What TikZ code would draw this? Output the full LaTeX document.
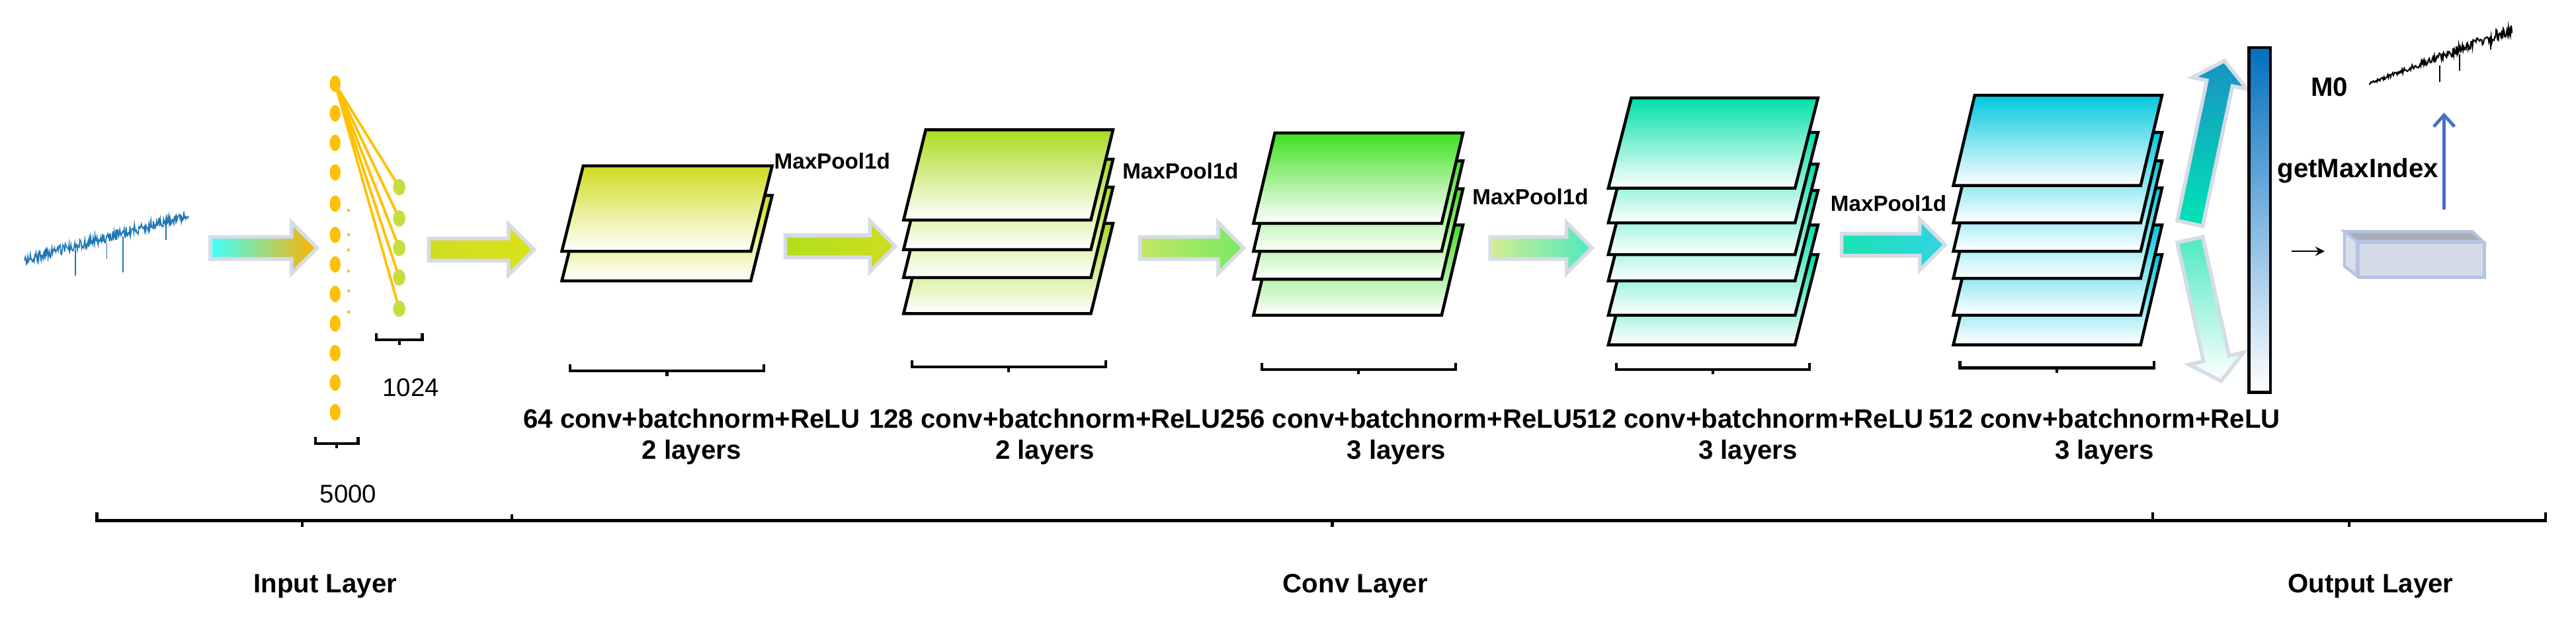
\documentclass[tikz,border=0pt]{standalone}
\usepackage{fontspec}
\setmainfont{Liberation Sans}
\usetikzlibrary{shapes.geometric,arrows.meta}
\definecolor{sigblue}{HTML}{1F77B4}
\definecolor{barblue}{HTML}{0070C0}
\definecolor{arrowborder}{HTML}{D6DCE6}
\definecolor{dotor}{HTML}{FFC000}
\definecolor{dotgr}{HTML}{C8DC40}
\definecolor{cA}{HTML}{D0DC20}
\definecolor{cB}{HTML}{A8DC20}
\definecolor{cC}{HTML}{40E020}
\definecolor{cD}{HTML}{00E0A8}
\definecolor{cE}{HTML}{00C8E0}
\definecolor{boxfill}{HTML}{D4DBE6}
\definecolor{boxtop}{HTML}{A8ACB4}
\definecolor{boxline}{HTML}{B4C4E4}
\definecolor{upblue}{HTML}{4472C4}
\tikzset{
  lbl/.style={font=\fontsize{11.5}{13.5}\selectfont\bfseries, align=center, inner sep=0},
  mp/.style={font=\fontsize{9.5}{11}\selectfont\bfseries, anchor=west, inner sep=0},
  num/.style={font=\fontsize{11}{13}\selectfont, inner sep=0},
  plate/.style={draw=black, line width=1.3pt, line join=miter},
  brk/.style={draw=black, line width=1.2pt},
  blk/.style={draw=arrowborder, line width=1.6pt, line join=miter},
  indot/.style={ellipse, fill=dotor, inner sep=0, minimum width=0.165cm, minimum height=0.25cm},
  hdot/.style={ellipse, fill=dotgr, inner sep=0, minimum width=0.185cm, minimum height=0.245cm},
}
% plate: x of top-left, y top, width, height, slant, colour
\newcommand\myplate[6]{%
  \draw[plate, top color=#6, bottom color=white]
   (#1,#2) -- ++(#3,0) -- ++(-#5,#4) -- ++(-#3,0) -- cycle;}
% block arrow: x1, x2, yc, left colour, right colour
\newcommand\myarrow[5]{%
  \draw[blk, left color=#4, right color=#5]
   (#1,#3-6.7) -- (#2-15.5,#3-6.7) -- (#2-15.5,#3-15.5) -- (#2,#3) --
   (#2-15.5,#3+15.5) -- (#2-15.5,#3+6.7) -- (#1,#3+6.7) -- cycle;}
% bracket: x1, x2, y
\newcommand\mybracket[3]{%
  \draw[brk] (#1,#3-4) -- (#1,#3) -- (#2,#3) -- (#2,#3-4);
  \draw[brk] ({(#1+#2)/2},#3) -- ({(#1+#2)/2},#3+3);}
\begin{document}
\begin{tikzpicture}[x=0.025cm, y=-0.025cm]
\useasboundingbox (0,0) rectangle (1568,384.5);

% input signal
\pgfmathsetseed{7}
\draw[sigblue, line width=0.5pt] plot[domain=15:115, samples=260] (\x, {158-0.27*(\x-15)+3.2*rand});
\draw[sigblue, line width=0.5pt] (46,152) -- (46,168) (75,144) -- (75,166) (65,148) -- (65,158) (101,134) -- (101,146);

% block arrows
\myarrow{128}{193}{151}{cyan!75!white}{orange!60!yellow}
\myarrow{261}{325}{152}{cA}{cA!80!yellow}
\myarrow{478}{545}{150}{cB!90!yellow}{cA}
\myarrow{694}{757}{151}{cB!70!white}{cC!70!white}
\myarrow{907}{969}{151}{cB!50!white}{cD!70!white}
\myarrow{1121}{1184}{149}{cD!90!white}{cE!80!white}

% input layer neurons
\foreach \i/\y in {0/51,1/69,2/87,3/105,4/124,5/143,6/161,7/179,8/197,9/215,10/233,11/251}
  {\node[indot] (in\i) at (204,\y) {};}
\foreach \i/\y in {1/114,2/133,3/151,4/169,5/188}
  {\node[hdot] (h\i) at (243,\y) {};}
\foreach \i in {1,...,5}
  {\draw[dotor, line width=1.1pt] (in0.center) -- (h\i.center);}
\foreach \i in {1,...,5} {\node[hdot] at (h\i) {};}
\foreach \y in {128,143,152,165,177,190}
  {\fill[dotor] (211.2,\y-0.8) rectangle (212.8,\y+0.8);}

\mybracket{229}{257}{207}
\node[num] (n1024) at (250,236) {1024};
\mybracket{192}{218}{270}
\node[num] (n5000) at (212,301) {5000};

% conv layers
\foreach \t in {119,101} {\myplate{355}{\t}{115}{52}{13}{cA}}
\foreach \t in {136,114,97,79} {\myplate{563.5}{\t}{114}{55}{13.5}{cB}}
\foreach \t in {137,115,98,81} {\myplate{776}{\t}{114.5}{55}{13}{cC}}
\foreach \t in {155,137,116,100,80.7,59.6} {\myplate{993}{\t}{113.6}{55}{14}{cD}}
\foreach \t in {155,137,114.5,98,80.7,58} {\myplate{1202}{\t}{114}{55}{13}{cE}}

\node[mp] (mp1) at (471,98) {MaxPool1d};
\node[mp] (mp2) at (683,104) {MaxPool1d};
\node[mp] (mp3) at (896,120) {MaxPool1d};
\node[mp] (mp4) at (1114,124) {MaxPool1d};

\mybracket{347}{465}{226}
\mybracket{555}{673}{223.5}
\mybracket{768}{886}{225}
\mybracket{984}{1101.5}{225}
\mybracket{1193}{1311}{224}

\node[lbl] (l1) at (421,266) {64 conv+batchnorm+ReLU\\2 layers};
\node[lbl] (l2) at (636,266) {128 conv+batchnorm+ReLU\\2 layers};
\node[lbl] (l3) at (850,266) {256 conv+batchnorm+ReLU\\3 layers};
\node[lbl] (l4) at (1064,266) {512 conv+batchnorm+ReLU\\3 layers};
\node[lbl] (l5) at (1281,266) {512 conv+batchnorm+ReLU\\3 layers};

% output part: split arrows
\draw[blk, bottom color=cD!85!cyan, top color=sigblue!80!cyan]
  (1340.8,137.7) -- (1358.9,52.4) -- (1367.7,54.2) -- (1354,37) -- (1334.5,47.2) -- (1343.3,49.0) -- (1325.2,134.3) -- cycle;
\draw[blk, top color=cD!70!white, bottom color=white]
  (1340.8,144.3) -- (1356.8,216.6) -- (1365.6,214.6) -- (1352,232) -- (1332.4,222) -- (1341.2,220) -- (1325.2,147.7) -- cycle;

\draw[black, line width=1.3pt, top color=barblue, bottom color=white] (1369,29) rectangle (1382,239);
\node[lbl, anchor=west] (gmi) at (1386,104) {getMaxIndex};

% box
\draw[boxline, line width=1.2pt, fill=boxtop] (1427,141) -- (1505,141) -- (1511.3,147) -- (1434.6,147) -- cycle;
\draw[boxline, line width=1.2pt, fill=boxfill!85!white] (1427,141) -- (1434.6,147) -- (1434.6,168) -- (1427,162) -- cycle;
\node[draw=boxline, line width=1.2pt, fill=boxfill, minimum width=1.92cm, minimum height=0.525cm, inner sep=0, anchor=north west] (box) at (1434.6,147) {};
\coordinate (sa) at (1395,153);
\coordinate (sb) at (1415,153);
\draw[->, line width=0.8pt, >=stealth] (sa) -- (sb);

\coordinate (bt) at (1487.7,127.5);
\coordinate (bh) at (1487.7,68.6);
\draw[upblue, line width=1.4pt, -{Straight Barb[length=5pt,width=9pt]}] (bt) -- (bh);

\node[lbl, anchor=center] (m0) at (1418,53) {M0};
\pgfmathsetseed{3}
\draw[black, line width=0.6pt] plot[domain=1442:1529, samples=200] (\x, {51-0.38*(\x-1442)+(0.6+0.04*(\x-1442))*rand});
\draw[black, line width=0.5pt] (1485,40) -- (1485,50) (1497,33) -- (1497,43) (1516,22) -- (1516,30);

% bottom axis
\draw[brk] (59,312) -- (59,317) -- (1549.6,317) -- (1549.6,312);
\draw[brk] (184,317) -- (184,321);
\draw[brk] (311.5,317) -- (311.5,313);
\draw[brk] (811,317) -- (811,321);
\draw[brk] (1310.5,317) -- (1310.5,312);
\draw[brk] (1430,317) -- (1430,321);
\node[lbl] (t1) at (198,357) {Input Layer};
\node[lbl] (t2) at (825,357) {Conv Layer};
\node[lbl] (t3) at (1443,357) {Output Layer};
\end{tikzpicture}
\end{document}
